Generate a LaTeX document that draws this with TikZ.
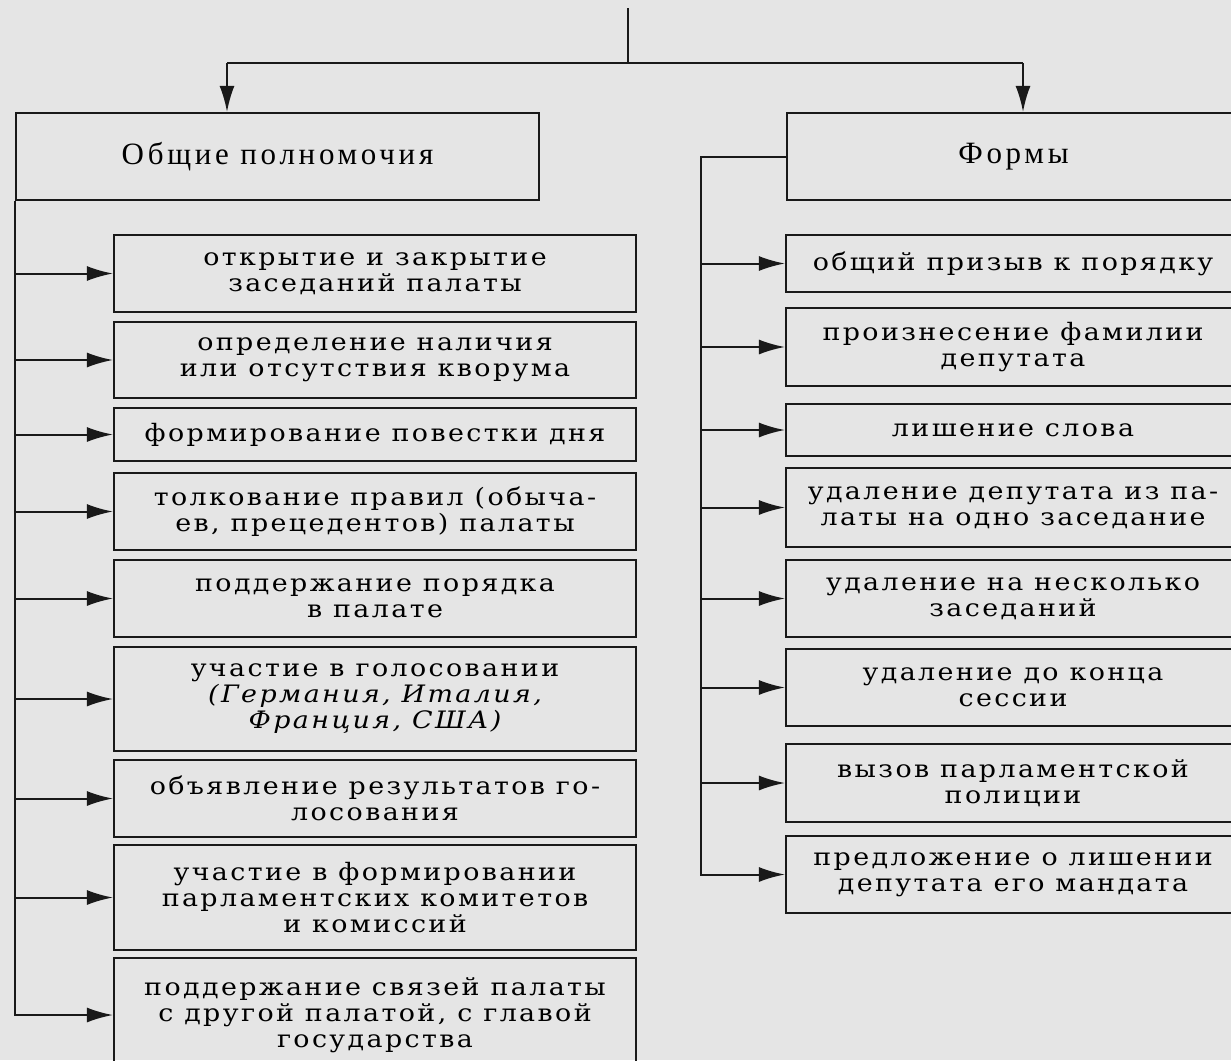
\documentclass[tikz,border=0pt]{standalone}
\usepackage{fontspec}
\setmainfont{Liberation Serif}
\newfontfamily\headfont[LetterSpace=12]{Liberation Serif}
\newfontfamily\boxfont[LetterSpace=10, FakeStretch=1.12]{DejaVu Serif}
\usepackage{xcolor}
\usepackage{tikz}
\usetikzlibrary{arrows.meta}

\begin{document}
\begin{tikzpicture}[
    x=1pt, y=-1pt,
    header/.style={draw=black!90, line width=2.2pt, minimum height=87pt, font=\headfont\fontsize{31}{34}\selectfont},
    item/.style={draw=black!90, line width=2.2pt, align=center, inner sep=0pt, font=\boxfont\fontsize{24}{26}\selectfont},
    left/.style={item, minimum width=522pt},
    right/.style={item, minimum width=454pt},
    line/.style={draw=black!90, line width=2pt, -{Latex[length=26pt,width=15pt]}}
]

\fill[black!10] (0,0) rectangle (1231,1060);
\useasboundingbox (0,0) rectangle (1231,1060);
\clip (0,0) rectangle (1231,1060);

\node[header, minimum width=523pt] (general) at (277.5,156.5) {Общие полномочия};
\node[header, minimum width=453pt] (forms) at (1013.5,156.5) {Формы};

\coordinate (top) at (628,8);
\coordinate (fork) at (628,63);
\coordinate (lfork) at (227,63);
\coordinate (rfork) at (1023,63);
\coordinate (rtrunk) at (701,156.5);

% left column
\node[left, minimum height=77pt] (p1) at (375,273.5) {открытие и закрытие\\заседаний палаты};
\node[left, minimum height=76pt] (p2) at (375,360) {определение наличия\\или отсутствия кворума};
\node[left, minimum height=53pt] (p3) at (375,434.5) {формирование повестки дня};
\node[left, minimum height=77pt] (p4) at (375,511.5) {толкование правил (обыча-\\ев, прецедентов) палаты};
\node[left, minimum height=77pt] (p5) at (375,598.5) {поддержание порядка\\в палате};
\node[left, minimum height=104pt] (p6) at (375,699) {участие в голосовании\\{\itshape(Германия, Италия,}\\{\itshape Франция, США)}};
\node[left, minimum height=77pt] (p7) at (375,798.5) {объявление результатов го-\\лосования};
\node[left, minimum height=105pt] (p8) at (375,897.5) {участие в формировании\\парламентских комитетов\\и комиссий};
\node[left, minimum height=114pt] (p9) at (375,1015) {поддержание связей палаты\\с другой палатой, с главой\\государства};

% right column
\node[right, minimum height=57pt] (f1) at (1013,263.5) {общий призыв к порядку};
\node[right, minimum height=78pt] (f2) at (1013,347) {произнесение фамилии\\депутата};
\node[right, minimum height=52pt] (f3) at (1013,430) {лишение слова};
\node[right, minimum height=79pt] (f4) at (1013,507.5) {удаление депутата из па-\\латы на одно заседание};
\node[right, minimum height=77pt] (f5) at (1013,598.5) {удаление на несколько\\заседаний};
\node[right, minimum height=77pt] (f6) at (1013,687.5) {удаление до конца\\сессии};
\node[right, minimum height=78pt] (f7) at (1013,783) {вызов парламентской\\полиции};
\node[right, minimum height=77pt] (f8) at (1013,874.5) {предложение о лишении\\депутата его мандата};

% top split
\draw[draw=black!90, line width=2pt] (top) -- (fork);
\draw[draw=black!90, line width=2pt] (lfork) -- (rfork);
\draw[line] (lfork) -- (lfork |- general.north);
\draw[line] (rfork) -- (rfork |- forms.north);

% left trunk
\draw[line] (general.south west) |- (p9.west);
\draw[line] (general.south west |- p1.west) -- (p1.west);
\draw[line] (general.south west |- p2.west) -- (p2.west);
\draw[line] (general.south west |- p3.west) -- (p3.west);
\draw[line] (general.south west |- p4.west) -- (p4.west);
\draw[line] (general.south west |- p5.west) -- (p5.west);
\draw[line] (general.south west |- p6.west) -- (p6.west);
\draw[line] (general.south west |- p7.west) -- (p7.west);
\draw[line] (general.south west |- p8.west) -- (p8.west);

% right trunk
\draw[line] (forms.west) -- (rtrunk) |- (f8.west);
\draw[line] (rtrunk |- f1.west) -- (f1.west);
\draw[line] (rtrunk |- f2.west) -- (f2.west);
\draw[line] (rtrunk |- f3.west) -- (f3.west);
\draw[line] (rtrunk |- f4.west) -- (f4.west);
\draw[line] (rtrunk |- f5.west) -- (f5.west);
\draw[line] (rtrunk |- f6.west) -- (f6.west);
\draw[line] (rtrunk |- f7.west) -- (f7.west);

\end{tikzpicture}
\end{document}
